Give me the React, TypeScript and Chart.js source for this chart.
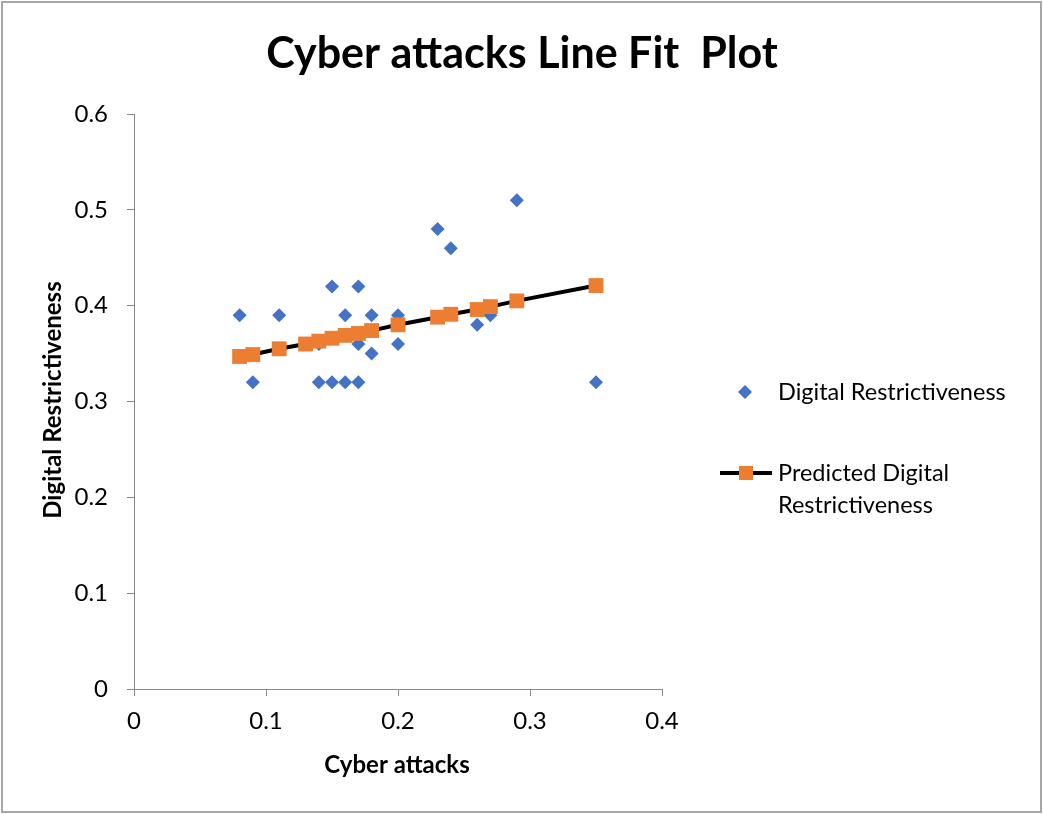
import React, { useEffect, useRef } from "react";
import { Chart, registerables } from "chart.js";

Chart.register(...registerables);

const actualX = [0.08, 0.09, 0.11, 0.13, 0.14, 0.14, 0.15, 0.15, 0.16, 0.16, 0.17, 0.17, 0.17, 0.18, 0.18, 0.2, 0.2, 0.23, 0.24, 0.26, 0.27, 0.29, 0.35];
const actualY = [0.39, 0.32, 0.39, 0.36, 0.36, 0.32, 0.42, 0.32, 0.39, 0.32, 0.42, 0.36, 0.32, 0.39, 0.35, 0.39, 0.36, 0.48, 0.46, 0.38, 0.39, 0.51, 0.32];

const predX = [0.08, 0.09, 0.11, 0.13, 0.14, 0.15, 0.16, 0.17, 0.18, 0.2, 0.23, 0.24, 0.26, 0.27, 0.29, 0.35];
const predY = [0.347, 0.349, 0.355, 0.36, 0.363, 0.366, 0.369, 0.371, 0.374, 0.38, 0.388, 0.391, 0.396, 0.399, 0.405, 0.421];

const xTicks = [0, 0.1, 0.2, 0.3, 0.4];
const yTicks = [0, 0.1, 0.2, 0.3, 0.4, 0.5, 0.6];

const TITLE = "Cyber attacks Line Fit  Plot";
const X_TITLE = "Cyber attacks";
const Y_TITLE = "Digital Restrictiveness";
const LEGEND_1 = "Digital Restrictiveness";
const LEGEND_2 = ["Predicted Digital", "Restrictiveness"];

const FONT = "Lato, 'Open Sans', sans-serif";
const BLUE = "#4472C4";
const ORANGE = "#ED7D31";
const AXIS = "#898989";

const decor = {
  id: "decor",
  afterDraw(chart: any) {
    const ctx = chart.ctx;
    ctx.save();
    // outer border
    ctx.strokeStyle = "#a6a6a6";
    ctx.lineWidth = 2;
    ctx.strokeRect(2, 2, 1039, 810);
    ctx.fillStyle = "#000";
    ctx.textAlign = "center";
    ctx.textBaseline = "middle";
    ctx.font = `bold 43px ${FONT}`;
    ctx.fillText(TITLE, 522, 54);
    ctx.font = `bold 24px ${FONT}`;
    ctx.fillText(X_TITLE, 397, 765);
    ctx.save();
    ctx.translate(53, 400);
    ctx.rotate(-Math.PI / 2);
    ctx.fillText(Y_TITLE, 0, 0);
    ctx.restore();
    // legend
    ctx.textAlign = "left";
    ctx.font = `23.5px ${FONT}`;
    ctx.fillStyle = BLUE;
    ctx.beginPath();
    ctx.moveTo(745, 385);
    ctx.lineTo(752, 392);
    ctx.lineTo(745, 399);
    ctx.lineTo(738, 392);
    ctx.closePath();
    ctx.fill();
    ctx.fillStyle = "#000";
    ctx.fillText(LEGEND_1, 778, 392);
    ctx.strokeStyle = "#000";
    ctx.lineWidth = 4;
    ctx.beginPath();
    ctx.moveTo(720, 473);
    ctx.lineTo(772, 473);
    ctx.stroke();
    ctx.fillStyle = ORANGE;
    ctx.fillRect(739, 466, 14, 14);
    ctx.fillStyle = "#000";
    ctx.fillText(LEGEND_2[0], 778, 473);
    ctx.fillText(LEGEND_2[1], 778, 505);
    ctx.restore();
  },
};

export default function App() {
  const ref = useRef<HTMLCanvasElement>(null);
  useEffect(() => {
    const chart = new Chart(ref.current!, {
      type: "scatter",
      data: {
        datasets: [
          {
            label: LEGEND_2.join(" "),
            data: predX.map((x, i) => ({ x, y: predY[i] })),
            showLine: true,
            borderColor: "#000",
            borderWidth: 4,
            pointStyle: "rect",
            pointRadius: 10.5,
            pointBackgroundColor: ORANGE,
            pointBorderColor: ORANGE,
            pointBorderWidth: 0,
            order: 1,
          } as any,
          {
            label: LEGEND_1,
            data: actualX.map((x, i) => ({ x, y: actualY[i] })),
            pointStyle: "rectRot",
            pointRadius: 7,
            pointBackgroundColor: BLUE,
            pointBorderColor: BLUE,
            pointBorderWidth: 0,
            order: 2,
          } as any,
        ],
      },
      options: {
        responsive: false,
        animation: false,
        layout: { padding: { top: 114, left: 0, right: 381, bottom: 0 } },
        plugins: { legend: { display: false }, tooltip: { enabled: false } },
        scales: {
          x: {
            type: "linear",
            min: 0,
            max: 0.4,
            afterFit: (s: any) => { s.height = 125; },
            afterBuildTicks: (s: any) => { s.ticks = xTicks.map((v) => ({ value: v })); },
            ticks: { color: "#000", font: { family: FONT, size: 24 }, padding: 11, callback: (v: any) => String(v) },
            grid: { drawOnChartArea: false, drawTicks: true, tickLength: 7, color: AXIS },
            border: { color: AXIS, width: 1 },
          },
          y: {
            type: "linear",
            min: 0,
            max: 0.6,
            afterFit: (s: any) => { s.width = 134; },
            afterBuildTicks: (s: any) => { s.ticks = yTicks.map((v) => ({ value: v })); },
            ticks: { color: "#000", font: { family: FONT, size: 24 }, padding: 19, callback: (v: any) => String(v) },
            grid: { drawOnChartArea: false, drawTicks: true, tickLength: 7, color: AXIS },
            border: { color: AXIS, width: 1 },
          },
        },
      },
      plugins: [decor],
    });
    return () => chart.destroy();
  }, []);
  return (
    <div style={{ position: "absolute", left: 0, top: 0, width: 1043, height: 814, background: "#fff" }}>
      <canvas ref={ref} width={1043} height={814} />
    </div>
  );
}
